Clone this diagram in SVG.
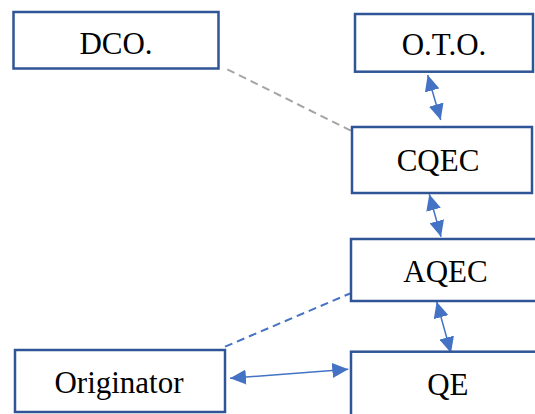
<svg xmlns="http://www.w3.org/2000/svg" width="535" height="414" viewBox="0 0 535 414">
<style>
.box{fill:#fff;stroke:#2F5597;stroke-width:2.5}
.lbl{font-family:"Liberation Serif","Times New Roman",serif;font-size:31px;fill:#000;text-anchor:middle}
.arr{stroke:#4472C4;stroke-width:1.5;fill:none;marker-start:url(#ah);marker-end:url(#ah)}
.dg{stroke:#A5A5A5;stroke-width:2;stroke-dasharray:8,5;fill:none}
.db{stroke:#4472C4;stroke-width:2;stroke-dasharray:8,5;fill:none}
</style>
<defs>
<marker id="ah" markerUnits="userSpaceOnUse" markerWidth="16" markerHeight="15" refX="16" refY="7.5" orient="auto-start-reverse">
<path d="M0,0 L16,7.5 L0,15 z" fill="#4472C4"/>
</marker>
</defs>
<rect width="535" height="414" fill="#fff"/>
<g id="connectors">
<line class="dg" x1="227.3" y1="69.3" x2="355" y2="132.7"/>
<line class="db" x1="225" y1="346.7" x2="350" y2="293.5"/>
<line class="arr" x1="427.7" y1="75" x2="440.7" y2="120"/>
<line class="arr" x1="429.3" y1="194.3" x2="441" y2="236.7"/>
<line class="arr" x1="436.7" y1="301.7" x2="451" y2="353"/>
<line class="arr" x1="230" y1="378.3" x2="348.3" y2="369.3"/>
</g>
<g id="dco">
<rect class="box" x="13.5" y="12" width="205" height="56.5"/>
<text class="lbl" x="116" y="53.5">DCO.</text>
</g>
<g id="oto">
<rect class="box" x="355" y="14" width="178" height="57.7"/>
<text class="lbl" x="444" y="55">O.T.O.</text>
</g>
<g id="cqec">
<rect class="box" x="352" y="127" width="180" height="66"/>
<text class="lbl" x="438" y="171">CQEC</text>
</g>
<g id="aqec">
<rect class="box" x="351" y="239" width="200" height="62"/>
<text class="lbl" x="445.5" y="281.7">AQEC</text>
</g>
<g id="qe">
<rect class="box" x="351" y="351.7" width="200" height="80"/>
<text class="lbl" x="447.8" y="395">QE</text>
</g>
<g id="originator">
<rect class="box" x="15" y="350" width="210" height="62"/>
<text class="lbl" x="119" y="392.7">Originator</text>
</g>
</svg>
